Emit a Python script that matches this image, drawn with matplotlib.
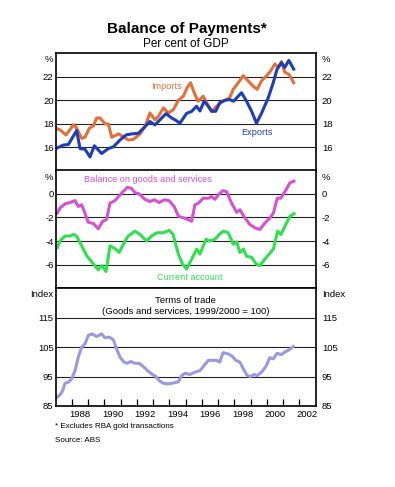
"""Balance of Payments chart: three stacked panels."""

import matplotlib

matplotlib.use("Agg")
import matplotlib.pyplot as plt

plt.rcParams["font.family"] = ["Liberation Sans", "DejaVu Sans"]
plt.rcParams["axes.unicode_minus"] = False

BLUE = "#1f3db8"
ORANGE = "#e2703a"
MAGENTA = "#d552d5"
GREEN = "#2fe04f"
LAVENDER = "#9a9ae0"

# ---- panel 1: exports and imports, per cent of GDP
exp_year = [1986.5, 1986.97, 1987.28, 1987.59, 1987.79, 1988.0, 1988.3, 1988.61, 1988.88, 1989.33,
            1989.74, 1990.05, 1990.46, 1990.83, 1991.18, 1991.59, 1991.9, 1992.3, 1992.61, 1992.92,
            1993.29, 1993.64, 1993.9, 1994.15, 1994.56, 1994.86, 1995.17, 1995.38, 1995.64, 1995.89,
            1996.1, 1996.35, 1996.6, 1996.9, 1997.2, 1997.45, 1997.74, 1997.94, 1998.25, 1998.56,
            1998.86, 1999.17, 1999.58, 1999.89, 2000.13, 2000.4, 2000.6, 2000.85, 2001.15]
exports = [15.9, 16.2, 16.25, 16.97, 17.43, 15.9, 15.85, 15.19, 16.14, 15.48,
           15.9, 16.05, 16.63, 17.06, 17.15, 17.2, 17.63, 18.2, 17.92, 18.35,
           18.87, 18.5, 18.3, 18.06, 18.9, 19.05, 19.5, 19.1, 19.93, 19.5,
           19.07, 19.07, 19.8, 20.0, 20.07, 19.93, 20.36, 20.65, 19.93, 19.07,
           18.06, 18.9, 20.2, 21.5, 22.66, 23.2, 22.8, 23.4, 22.66]

imp_year = [1986.5, 1986.77, 1987.14, 1987.59, 1987.75, 1988.1, 1988.3, 1988.57, 1988.82, 1989.02,
            1989.23, 1989.54, 1989.74, 1989.95, 1990.36, 1990.66, 1990.97, 1991.28, 1991.69, 1992.0,
            1992.3, 1992.61, 1992.82, 1993.13, 1993.43, 1993.74, 1994.05, 1994.36, 1994.6, 1994.8,
            1995.07, 1995.27, 1995.58, 1995.79, 1996.1, 1996.4, 1996.8, 1997.2, 1997.43, 1997.74,
            1998.04, 1998.35, 1998.66, 1998.9, 1999.17, 1999.48, 1999.68, 2000.0, 2000.2, 2000.4,
            2000.6, 2000.87, 2001.15]
imports = [17.63, 17.49, 17.06, 17.92, 17.72, 16.77, 16.86, 17.63, 17.83, 18.5,
           18.5, 18.0, 18.0, 16.86, 17.15, 16.91, 16.63, 16.68, 17.15, 17.78,
           18.93, 18.35, 18.64, 19.36, 18.93, 19.2, 20.0, 20.36, 21.1, 21.5,
           20.5, 19.93, 20.36, 19.8, 19.07, 19.5, 19.93, 20.2, 20.94, 21.5,
           22.1, 21.65, 21.2, 20.94, 21.65, 22.1, 22.4, 23.1, 22.8, 23.3,
           22.4, 22.2, 21.5]

# ---- panel 2: balance on goods and services, current account
bal_year = [1986.6, 1986.76, 1987.07, 1987.38, 1987.69, 1987.89, 1988.1, 1988.3, 1988.5, 1988.82,
            1989.12, 1989.39, 1989.63, 1989.84, 1990.15, 1990.46, 1990.7, 1990.91, 1991.17, 1991.38,
            1991.64, 1991.99, 1992.3, 1992.56, 1992.87, 1993.18, 1993.48, 1993.79, 1994.06, 1994.4,
            1994.56, 1994.87, 1995.07, 1995.28, 1995.59, 1995.9, 1996.1, 1996.3, 1996.51, 1996.78,
            1997.02, 1997.33, 1997.64, 1997.84, 1998.15, 1998.46, 1998.77, 1999.07, 1999.38, 1999.69,
            1999.9, 2000.14, 2000.35, 2000.61, 2000.92, 2001.17]
balance = [-1.62, -1.2, -0.84, -0.73, -0.56, -1.06, -0.92, -1.62, -2.4, -2.51,
           -2.96, -2.32, -2.18, -0.78, -0.56, -0.08, 0.28, 0.56, 0.47, 0.11,
           0.0, -0.45, -0.64, -0.5, -0.73, -0.5, -0.56, -1.06, -1.9, -2.04,
           -2.12, -2.32, -0.92, -0.78, -0.36, -0.36, -0.22, -0.45, -0.08, 0.28,
           0.2, -0.78, -1.56, -1.34, -2.04, -2.6, -2.88, -3.02, -2.46, -2.04,
           -1.62, -0.36, -0.36, 0.2, 0.95, 1.09]

ca_year = [1986.6, 1986.76, 1987.07, 1987.38, 1987.59, 1987.79, 1988.1, 1988.41, 1988.82, 1989.12,
           1989.33, 1989.6, 1989.84, 1990.15, 1990.41, 1990.7, 1990.96, 1991.38, 1991.69, 1992.1,
           1992.4, 1992.71, 1993.12, 1993.49, 1993.73, 1994.05, 1994.3, 1994.56, 1994.87, 1995.18,
           1995.38, 1995.75, 1995.99, 1996.3, 1996.57, 1996.82, 1997.12, 1997.43, 1997.64, 1997.84,
           1998.05, 1998.25, 1998.56, 1998.83, 1999.07, 1999.38, 1999.59, 1999.9, 2000.16, 2000.37,
           2000.61, 2000.92, 2001.17]
current_account = [-4.55, -4.0, -3.58, -3.58, -3.44, -3.58, -4.41, -5.25, -5.95, -6.45,
                   -6.09, -6.59, -4.41, -4.64, -4.97, -4.19, -3.58, -3.16, -3.44, -4.0,
                   -3.58, -3.3, -3.3, -3.1, -3.44, -5.11, -5.95, -6.38, -5.53, -4.69,
                   -5.11, -3.85, -4.0, -3.85, -3.44, -3.16, -3.3, -4.27, -4.08, -4.97,
                   -4.69, -5.3, -5.39, -5.95, -6.09, -5.53, -5.2, -4.69, -3.16, -3.44,
                   -2.74, -1.9, -1.68]

# ---- panel 3: terms of trade index
tot_year = [1986.52, 1986.76, 1986.93, 1987.07, 1987.28, 1987.48, 1987.69, 1987.89, 1988.1, 1988.3,
            1988.51, 1988.72, 1989.02, 1989.33, 1989.53, 1989.8, 1990.05, 1990.25, 1990.46, 1990.7,
            1990.91, 1991.11, 1991.38, 1991.64, 1991.89, 1992.2, 1992.4, 1992.67, 1992.87, 1993.12,
            1993.43, 1993.74, 1994.05, 1994.25, 1994.46, 1994.77, 1995.08, 1995.38, 1995.69, 1995.9,
            1996.2, 1996.4, 1996.6, 1996.8, 1997.12, 1997.38, 1997.59, 1997.84, 1998.05, 1998.29,
            1998.5, 1998.7, 1998.9, 1999.17, 1999.44, 1999.68, 1999.89, 2000.13, 2000.38, 2000.6,
            2000.87, 2001.12]
terms_of_trade = [87.7, 88.75, 90.2, 92.7, 93.1, 94.2, 97.0, 101.6, 105.0, 106.1,
                  109.0, 109.5, 108.6, 109.5, 108.2, 108.4, 107.5, 104.4, 101.6, 99.9,
                  99.5, 100.1, 99.5, 99.5, 98.4, 96.8, 95.9, 95.0, 93.6, 92.7,
                  92.5, 92.8, 93.2, 95.3, 96.1, 95.7, 96.5, 97.0, 99.1, 100.5,
                  100.5, 100.5, 99.9, 103.1, 102.7, 101.8, 100.5, 99.9, 97.6, 95.3,
                  95.0, 95.7, 95.3, 96.5, 98.4, 101.4, 101.0, 102.9, 102.4, 103.3,
                  104.1, 105.2]

year_labels = [1988, 1990, 1992, 1994, 1996, 1998, 2000, 2002]
year_bounds = [1986.5 + k for k in range(1, 16)]

fig = plt.figure(figsize=(3.95, 4.87), dpi=100)

L, W = 0.141, 0.658
panels = [
    dict(bottom=0.649, ylim=(14, 24), ticks=[16, 18, 20, 22], unit="%"),
    dict(bottom=0.4085, ylim=(-8, 2), ticks=[-6, -4, -2, 0], unit="%"),
    dict(bottom=0.1665, ylim=(85, 125), ticks=[85, 95, 105, 115], unit="Index"),
]
axes = []
for p in panels:
    ax = fig.add_axes([L, p["bottom"], W, 0.2415])
    ax.set_xlim(1986.5, 2002.5)
    ax.set_ylim(*p["ylim"])
    ax.set_yticks(p["ticks"])
    ax.tick_params(axis="y", length=0, pad=1.5, labelsize=6.8)
    sec = ax.secondary_yaxis("right")
    sec.set_yticks(p["ticks"])
    sec.tick_params(axis="y", length=0, pad=4.5, labelsize=6.8)
    sec.spines["right"].set_visible(False)
    ax.grid(axis="y", color="#222222", lw=0.8)
    ax.set_axisbelow(True)
    for s in ax.spines.values():
        s.set_linewidth(1.2)
    ax.set_xticks([])
    ax.annotate(p["unit"], (0, 1), xycoords="axes fraction", xytext=(-1.5, -4.8),
                textcoords="offset points", ha="right", va="center", fontsize=6.8)
    ax.annotate(p["unit"], (1, 1), xycoords="axes fraction", xytext=(4.5, -4.8),
                textcoords="offset points", ha="left", va="center", fontsize=6.8)
    axes.append(ax)

ax1, ax2, ax3 = axes

ax1.plot(imp_year, imports, color=ORANGE, lw=2.2, solid_joinstyle="round")
ax1.plot(exp_year, exports, color=BLUE, lw=2.2, solid_joinstyle="round")
ax1.text(1993.35, 21.22, "Imports", color=ORANGE, fontsize=6.6, ha="center", va="center")
ax1.text(1998.9, 17.26, "Exports", color=BLUE, fontsize=6.6, ha="center", va="center")

ax2.plot(bal_year, balance, color=MAGENTA, lw=2.2, solid_joinstyle="round")
ax2.plot(ca_year, current_account, color=GREEN, lw=2.2, solid_joinstyle="round")
ax2.text(1992.2, 1.24, "Balance on goods and services", color=MAGENTA, fontsize=6.6,
         ha="center", va="center")
ax2.text(1994.75, -7.08, "Current account", color=GREEN, fontsize=6.6, ha="center", va="center")

ax3.plot(tot_year, terms_of_trade, color=LAVENDER, lw=2.2, solid_joinstyle="round")
ax3.text(0.5, 0.852, "Terms of trade\n(Goods and services, 1999/2000 = 100)", transform=ax3.transAxes,
         fontsize=6.8, ha="center", va="center", linespacing=1.25)
ax3.set_xticks(year_labels)
ax3.set_xticklabels([str(y) for y in year_labels])
ax3.set_xticks(year_bounds, minor=True)
ax3.tick_params(axis="x", which="major", length=0, pad=3, labelsize=6.8)
ax3.tick_params(axis="x", which="minor", direction="in", length=5, width=0.9, bottom=True)

fig.text(0.473, 0.94, "Balance of Payments*", fontsize=11, weight="bold", ha="center", va="center")
fig.text(0.471, 0.909, "Per cent of GDP", fontsize=8.5, ha="center", va="center")
fig.text(0.139, 0.124, "* Excludes RBA gold transactions", fontsize=5.8, ha="left", va="center")
fig.text(0.139, 0.0965, "Source: ABS", fontsize=5.8, ha="left", va="center")

fig.savefig("out.png", dpi=100)
plt.close()
